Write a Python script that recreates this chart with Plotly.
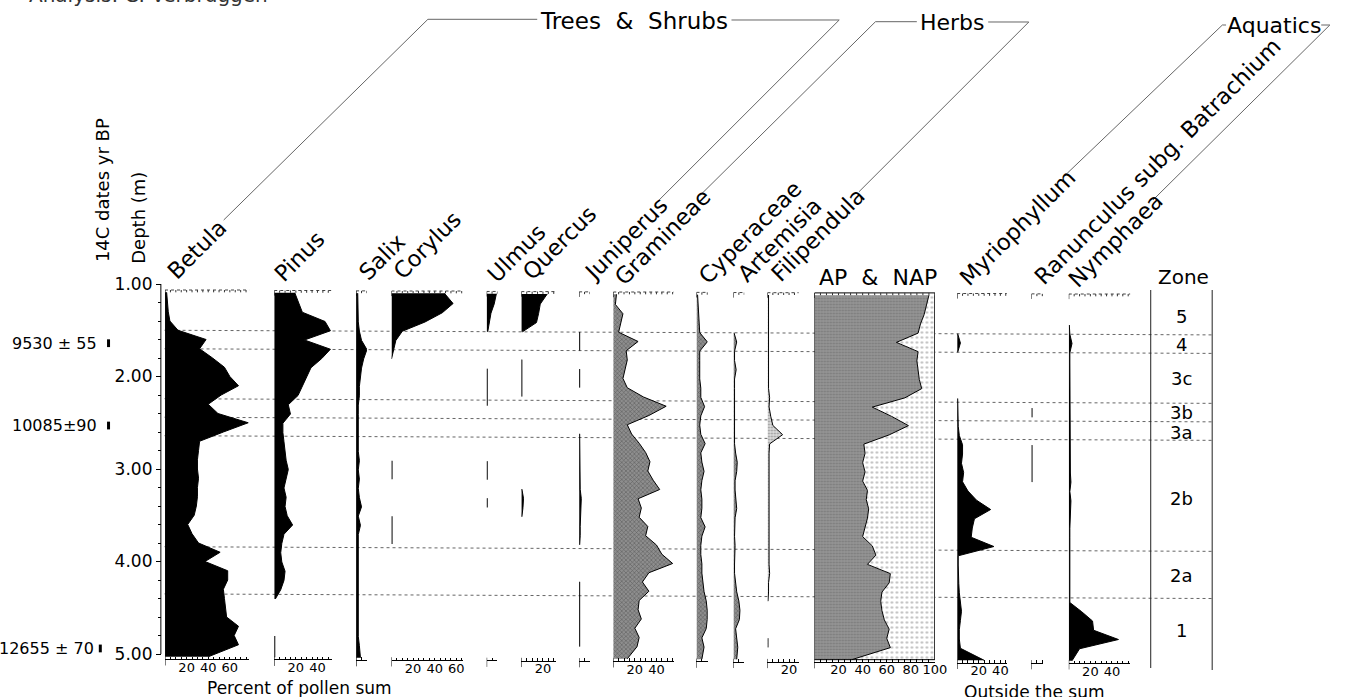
import plotly.graph_objects as go

W, H = 1357, 697
N = None

# ------------------------------------------------------------------ data
DEPTHS = [1.09, 1.20, 1.30, 1.40, 1.50, 1.60, 1.70, 1.80, 1.90, 2.00,
          2.10, 2.20, 2.30, 2.40, 2.50, 2.60, 2.70, 2.80, 2.90, 3.00,
          3.10, 3.20, 3.30, 3.40, 3.50, 3.60, 3.70, 3.80, 3.90, 4.00,
          4.10, 4.20, 4.30, 4.40, 4.50, 4.60, 4.70, 4.80, 4.90, 5.03]

BETULA = [1.5, 2, 3, 4.5, 12, 38, 32, 44, 55, 60,
          68, 52, 40, 49, 77, 54, 32, 31, 30, 30,
          31, 30, 30, 29, 27, 21, 25, 31, 51, 37,
          58, 58, 54, 55, 56, 57, 68, 64, 68, 40]
PINUS = [19, 23, 26, 47, 52, 28, 52, 44, 34, 30,
         26, 22, 13, 15, 8, 8, 9, 10, 11, 13,
         11, 9, 11, 10, 12, 17, 9, 7, 6, 7,
         10, 9, 6, 1, N, N, N, 0.5, 0.5, 0.5]
SALIX = [1.5, 1.5, 1.5, 2, 3, 5, 10, 7, 5, 4,
         3, 3, 2, 2, 2, 2, 2, 2, 3, 2,
         3, 2, 3, 5, 2, 4, 2, 2, 1.5, 1.5,
         1.5, 1.5, 1.5, 1.5, 2, 2, 2, 2, 3, 4]
CORYLUS = [49, 57, 47, 31, 10, 4, 2, 0, N, N,
           N, N, N, N, N, N, N, N, 0.5, 0.5,
           0.5, N, N, N, 0.5, 0.5, 0.5, 0.5, N, N,
           N, N, N, N, N, N, N, N, N, N]
ULMUS = [9, 7, 4, 2.5, 1, N, N, N, 0.5, 0.5,
         0.5, 0.5, 0.5, N, N, N, N, N, 0.5, 0.5,
         0.5, N, 0.5, 0.5, N, N, N, N, N, N,
         N, N, N, N, N, N, N, N, N, N]
QUERCUS = [24, 17.5, 16, 14, 1, N, N, 0.5, 0.5, 0.5,
           0.5, 0.5, N, N, N, N, N, N, N, N,
           N, 0.5, 2, 1.5, 0.5, N, N, N, N, N,
           N, N, N, N, N, N, N, N, N, N]
JUNIPERUS = [N, N, N, N, 0.5, 0.5, 0.5, N, 0.5, 0.5,
             0.5, N, N, N, N, 0.5, 0.5, 1, 1, 1,
             1, 1, 2, 1.5, 1, 1, 1, 0.5, N, N,
             N, 0.5, 0.5, 0.5, 0.5, 0.5, 0.5, 0.5, 0.5, N]
GRAMINEAE = [3, 2, 9, 7, 5, 23, 12, 13, 11, 9,
             13, 28, 49, 33, 13, 17, 24, 30, 34, 32,
             37, 43, 23, 26, 24, 32, 30, 40, 45, 55,
             33, 27, 33, 24, 23, 26, 20, 24, 22, 13]
CYPERACEAE = [1, 1.5, 2, 2, 3, 10, 3, 3, 3, 3,
              4, 4, 7.5, 4, 3, 4, 8, 4, 5, 7,
              5, 4, 5, 5, 4, 8, 5, 4, 4, 5,
              5, 6, 7, 9, 10, 10, 9, 5, 7, 5]
ARTEMISIA = [N, N, N, N, 0.5, 3, 1, 1, 2.5, 1,
             1, 1, 1, 1, 1, 1.5, 1, 2, 3.5, 3,
             1.5, 1.5, 2, 3, 1.5, 1, 1, 1.5, 1, 1,
             1, 2, 3, 5, 6, 5.5, 2, 3, 4, 3]
FILIPENDULA = [1, 1, 1, 1, 1, 1.5, 1, 1, 1, 1,
               1, 2, 1.5, 3, 5, 14, 2, 1.5, 1.5, 1.5,
               1.5, 1.5, 1.5, 1.5, 1.5, 1.5, 1.5, 1, 1, 1.5,
               2, 1, 1, 0.5, N, N, N, 0.5, 0.5, N]
AP = [95, 93, 91, 88, 86, 68, 86, 85, 86, 87,
      89, 75, 48, 64, 78, 62, 41, 42, 40, 42,
      40, 44, 43, 45, 44, 42, 40, 48, 51, 44,
      63, 62, 56, 55, 56, 58, 62, 60, 63, 31]
MYRIOPHYLLUM = [N, N, N, N, 0.5, 3, 0.5, N, N, N,
                N, 0.5, 0.5, 0.5, 1, 2, 5, 5, 4, 6,
                5, 10, 18, 31, 16, 14, 13, 34, 1, 1,
                1, 1.5, 2, 3, 4, 3, 2, 2, 3, 25]
RANUNCULUS = [N, N, N, N, N, N, N, N, N, N,
              N, N, 0.5, 0.5, N, N, 0.5, 0.5, 0.5, 0.5,
              0.5, N, N, N, N, N, N, N, N, N,
              N, N, N, N, N, N, N, N, N, N]
NYMPHAEA = [N, N, N, 0.5, 1, 3, 1, 1, 1, 1,
            1, 1, 1, 1, 1, 1, 1, 1, 1, 1.5,
            2, 1, 2, 1.5, 1, 1, 1, 1, 1, 1,
            1, 1, 1, 1, 12, 22, 23, 46, 10, 3]

TAXON_NAMES = ["Betula", "Pinus", "Salix", "Corylus", "Ulmus", "Quercus",
               "Juniperus", "Gramineae", "Cyperaceae", "Artemisia",
               "Filipendula", "AP & NAP", "Myriophyllum",
               "Ranunculus subg. Batrachium", "Nymphaea"]
TAXON_VALUES = [BETULA, PINUS, SALIX, CORYLUS, ULMUS, QUERCUS, JUNIPERUS,
                GRAMINEAE, CYPERACEAE, ARTEMISIA, FILIPENDULA, AP,
                MYRIOPHYLLUM, RANUNCULUS, NYMPHAEA]
GROUPS = ["Trees & Shrubs", "Herbs", "Aquatics"]

ZONE_BOUNDS = [1.50, 1.70, 2.24, 2.44, 2.64, 3.84, 4.35]
ZONE_NAMES = ["5", "4", "3c", "3b", "3a", "2b", "2a", "1"]
DATE_LABELS = ["9530 ± 55", "10085±90", "12655 ± 70"]
DATE_DEPTHS = [1.64, 2.53, 4.94]
DEPTH_TICKS = [1, 2, 3, 4, 5]
DEPTH_TICKTEXT = ["1.00", "2.00", "3.00", "4.00", "5.00"]
SCALE_LABEL_STEP = 20
SCALE_MINOR_STEP = 5

# ------------------------------------------------------------------ layout geometry (pixels)
PX_PER_M = 92.5
Y_REF_PX = 284.0     # pixel row of depth 1.00 at the depth axis
TILT = 0.0044        # scan tilt: rows drift down to the right
K = 1.09             # px per percent
FONT = "DejaVu Sans"
TOP_SCALE_D = 1.065
BOTTOM_SCALE_PX = 659.0
LABEL_DX, LABEL_DY = 5, -3   # nudge of rotated taxon labels

# (base px, scale max %, px per %, style, label centre px)
PANELS = [
    (166.5, 78, K, "black", (194, 252.5)),
    (276.7, 53, K, "black", (297, 258.5)),
    (359.3, 10, K, "black", (380, 260)),
    (395.0, 66, K, "black", (426, 248)),
    (491.0, 10, K, "black", (516, 256)),
    (526.0, 32, K, "black", (559, 246)),
    (584.3, 10, K, "black", (626, 241.5)),
    (618.7, 56, K, "herb", (663, 239.5)),
    (702.7, 10.5, K, "herb", (752, 235)),
    (740.0, 10, K, "herb", (781, 243)),
    (774.3, 29, K, "herb2", (819.5, 237.5)),
    (821.7, 100, 1.216, "apnap", (886, 277)),
    (965.7, 46, K, "black", (1022, 230)),
    (1040.7, 11, K, "black", (1163, 164)),
    (1078.3, 57, K, "black", (1120, 242.5)),
]


def shift(xpx):
    return (xpx - 166.0) * TILT


def px(x):
    return x / W


def py(y):
    return 1 - y / H


def depth_to_px(d, xpx=166.0):
    return Y_REF_PX + (d - 1.0) * PX_PER_M + shift(xpx)


def depth_range(s):
    top = 1 + (0 - Y_REF_PX - s) / PX_PER_M
    bot = 1 + (H - Y_REF_PX - s) / PX_PER_M
    return [bot, top]


def segments(vals):
    segs, cur = [], []
    for d, v in zip(DEPTHS, vals):
        if v is None:
            if cur:
                segs.append(cur)
            cur = []
        else:
            cur.append((d, v))
    if cur:
        segs.append(cur)
    return segs


fig = go.Figure()
shapes = []
annotations = []
layout = {}

BLACK_LINE = dict(color="black", width=1)
STYLE = {
    "black": dict(fillcolor="black"),
    "herb": dict(fillcolor="#7e7e7e",
                 fillpattern=dict(shape="x", fgcolor="#2a2a2a", bgcolor="#8e8e8e",
                                  size=3, solidity=0.35)),
    "herb2": dict(fillcolor="#cfcfcf",
                  fillpattern=dict(shape=".", fgcolor="#505050", bgcolor="#dedede",
                                   size=3, solidity=0.35)),
}

for i, (name, vals, panel) in enumerate(zip(TAXON_NAMES, TAXON_VALUES, PANELS)):
    base, smax, k, style, lab = panel
    xa = "x" if i == 0 else f"x{i+1}"
    ya = "y" if i == 0 else f"y{i+1}"
    xkey = "xaxis" if i == 0 else f"xaxis{i+1}"
    ykey = "yaxis" if i == 0 else f"yaxis{i+1}"
    s = 0.0 if i == 0 else shift(base)

    if style == "apnap":
        nap = [100 - v for v in vals]
        fig.add_trace(go.Scatter(
            x=vals, y=DEPTHS, xaxis=xa, yaxis=ya, mode="lines",
            stackgroup="apnap", orientation="h",
            line=dict(color="black", width=1),
            fillcolor="#8c8c8c",
            fillpattern=dict(shape=".", fgcolor="#5e5e5e", bgcolor="#969696",
                             size=3, solidity=0.4),
            hoverinfo="skip"))
        fig.add_trace(go.Scatter(
            x=nap, y=DEPTHS, xaxis=xa, yaxis=ya, mode="lines",
            stackgroup="apnap", orientation="h",
            line=dict(color="black", width=1),
            fillcolor="white",
            fillpattern=dict(shape=".", fgcolor="#808080", bgcolor="white",
                             size=5, solidity=0.2),
            hoverinfo="skip"))
    else:
        for seg in segments(vals):
            fig.add_trace(go.Scatter(
                x=[v for _, v in seg], y=[d for d, _ in seg],
                xaxis=xa, yaxis=ya, mode="lines", fill="tozerox",
                line=BLACK_LINE, hoverinfo="skip", **STYLE[style]))

    tickvals = list(range(SCALE_LABEL_STEP, int(smax) + 1, SCALE_LABEL_STEP))
    layout[xkey] = dict(
        domain=[px(base), px(base + smax * k)],
        range=[0, smax], anchor="free",
        position=py(BOTTOM_SCALE_PX + s),
        showline=True, linecolor="black", linewidth=1,
        ticks="inside", ticklen=2.5, tickcolor="black", tickwidth=1,
        tickmode="array", tickvals=tickvals, tickangle=0,
        ticktext=[str(v) for v in tickvals], ticklabelstandoff=-4,
        tickfont=dict(size=13, family=FONT, color="black"),
        minor=dict(ticks="inside", dtick=SCALE_MINOR_STEP, tick0=0,
                   ticklen=2.5, tickcolor="black", showgrid=False),
        showgrid=False, zeroline=False, fixedrange=True)
    if i == 0:
        layout[ykey] = dict(
            domain=[0, 1], range=depth_range(0), anchor="free",
            position=px(162.3), side="left",
            showline=False, showgrid=False, zeroline=False,
            ticks="outside", ticklen=5, tickcolor="black", tickwidth=1,
            tickmode="array", tickvals=DEPTH_TICKS, ticktext=DEPTH_TICKTEXT,
            tickfont=dict(size=17, family=FONT, color="black"),
            minor=dict(ticks="outside", ticklen=3, tickcolor="black",
                       tickmode="array",
                       tickvals=[round(1 + 0.2 * j, 2) for j in range(1, 20)
                                 if j % 5 != 0],
                       showgrid=False),
            fixedrange=True)
    else:
        layout[ykey] = dict(domain=[0, 1], range=depth_range(s), anchor="free",
                            position=0, visible=False, fixedrange=True)

    # scale decorations in the panel's own coordinates
    if style == "apnap":
        shapes.append(dict(type="rect", xref=xa, yref=ya, x0=0, x1=smax,
                           y0=TOP_SCALE_D, y1=DEPTHS[-1],
                           line=dict(color="black", width=1)))
    else:
        shapes.append(dict(type="line", xref=xa, yref=ya, x0=0, x1=smax,
                           y0=TOP_SCALE_D, y1=TOP_SCALE_D,
                           line=dict(color="#444", width=1, dash="dot")))
    for v in range(SCALE_MINOR_STEP, int(smax) + 1, SCALE_MINOR_STEP):
        shapes.append(dict(type="line", xref=xa, yref=ya, x0=v, x1=v,
                           y0=TOP_SCALE_D, y1=TOP_SCALE_D + 0.025,
                           line=dict(color="#333", width=1)))
    shapes.append(dict(type="line", xref=xa, yref=ya, x0=0, x1=0,
                       y0=TOP_SCALE_D, y1=TOP_SCALE_D + 0.055,
                       line=dict(color="black", width=1)))
    bot_d = 1 + (BOTTOM_SCALE_PX - Y_REF_PX) / PX_PER_M
    shapes.append(dict(type="line", xref=xa, yref=ya, x0=0, x1=0,
                       y0=bot_d - 0.03, y1=bot_d + 0.07,
                       line=dict(color="black", width=1)))

    # taxon label
    if style == "apnap":
        annotations.append(dict(text="AP\u00a0\u00a0&\u00a0\u00a0NAP", x=px(lab[0]), y=py(lab[1]),
                                xref="paper", yref="paper", showarrow=False,
                                font=dict(size=22, family=FONT, color="black"),
                                xanchor="center", yanchor="middle"))
    else:
        annotations.append(dict(text=name, x=px(lab[0] + LABEL_DX),
                                y=py(lab[1] + LABEL_DY),
                                xref="paper", yref="paper", showarrow=False,
                                textangle=-45,
                                font=dict(size=22.5, family=FONT, color="black"),
                                xanchor="center", yanchor="middle"))

# depth axis line
shapes.append(dict(type="line", xref="paper", yref="y", x0=px(162.3), x1=px(162.3),
                   y0=DEPTH_TICKS[0], y1=DEPTH_TICKS[-1],
                   line=dict(color="black", width=1)))

# zone lines (dotted, behind fills)
for d in ZONE_BOUNDS:
    shapes.append(dict(type="line", xref="paper", yref="paper", layer="below",
                       x0=px(166), x1=px(1224),
                       y0=py(depth_to_px(d, 166)), y1=py(depth_to_px(d, 1224)),
                       line=dict(color="#666", width=1, dash="dot")))
# zone column
for xl, yb in ((1161, 668), (1223, 670)):
    shapes.append(dict(type="line", xref="paper", yref="paper",
                       x0=px(xl), x1=px(xl), y0=py(290), y1=py(yb),
                       line=dict(color="#222", width=1)))
ZONE_LABEL_PX = [316.7, 344.3, 379, 412.5, 432.5, 498.3, 575.7, 630]
for zname, zy in zip(ZONE_NAMES, ZONE_LABEL_PX):
    annotations.append(dict(text=zname, x=px(1192), y=py(zy), xref="paper", yref="paper",
                            showarrow=False, xanchor="center", yanchor="middle",
                            font=dict(size=18, family=FONT, color="black")))
annotations.append(dict(text="Zone", x=px(1194), y=py(277), xref="paper", yref="paper",
                        showarrow=False, xanchor="center", yanchor="middle",
                        font=dict(size=20, family=FONT, color="black")))

# radiocarbon dates
DATE_BAR_X = [109.5, 109.5, 101.2]
DATE_TEXT_X = [100, 100, 97]
for lab, d, bx, tx in zip(DATE_LABELS, DATE_DEPTHS, DATE_BAR_X, DATE_TEXT_X):
    annotations.append(dict(text=lab, x=px(tx), y=d, xref="paper", yref="y",
                            showarrow=False, xanchor="right", yanchor="middle",
                            font=dict(size=16, family=FONT, color="black")))
    shapes.append(dict(type="line", xref="paper", yref="y", x0=px(bx), x1=px(bx),
                       y0=d - 0.042, y1=d + 0.042,
                       line=dict(color="black", width=3)))

# axis titles
annotations.append(dict(text="Depth (m)", x=px(140), y=py(218), xref="paper", yref="paper",
                        showarrow=False, textangle=-90, xanchor="center", yanchor="middle",
                        font=dict(size=18, family=FONT, color="black")))
annotations.append(dict(text="14C dates yr BP", x=px(103), y=py(190), xref="paper",
                        yref="paper", showarrow=False, textangle=-90,
                        xanchor="center", yanchor="middle",
                        font=dict(size=18, family=FONT, color="black")))
annotations.append(dict(text="Percent of pollen sum", x=px(302), y=py(688),
                        xref="paper", yref="paper", showarrow=False,
                        xanchor="center", yanchor="middle",
                        font=dict(size=17, family=FONT, color="black")))
annotations.append(dict(text="Outside the sum", x=px(1044), y=py(692),
                        xref="paper", yref="paper", showarrow=False,
                        xanchor="center", yanchor="middle",
                        font=dict(size=17, family=FONT, color="black")))
annotations.append(dict(text="Analysis: C. Verbruggen", x=px(27), y=py(9),
                        xref="paper", yref="paper", showarrow=False,
                        xanchor="left", yanchor="bottom",
                        font=dict(size=20, family=FONT, color="#333")))

# group headers with bracket lines
GROUP_LABEL_POS = [(640, 21), (960.7, 23), (1285, 25)]
GROUP_TEXT = ["Trees\u00a0\u00a0&\u00a0\u00a0Shrubs", GROUPS[1], GROUPS[2]]
GROUP_SIZE = [23, 22, 22]
for t, (gx, gy), fs in zip(GROUP_TEXT, GROUP_LABEL_POS, GROUP_SIZE):
    annotations.append(dict(text=t, x=px(gx), y=py(gy), xref="paper", yref="paper",
                            showarrow=False, xanchor="center", yanchor="middle",
                            font=dict(size=fs, family=FONT, color="black")))

BRACKETS = [
    [(225.7, 220), (431.7, 19.3), (542, 19.3)],
    [(738, 20), (846.7, 20), (665, 200)],
    [(706.7, 195), (883.3, 21.7), (925, 21.7)],
    [(997, 22), (1038, 22), (866.7, 191.7)],
    [(1076.7, 173.3), (1233.3, 25), (1237, 25)],
    [(1333, 25), (1341.7, 25), (1163.3, 200)],
]
for pts in BRACKETS:
    path = "M " + " L ".join(f"{px(a):.5f},{py(b):.5f}" for a, b in pts)
    shapes.append(dict(type="path", xref="paper", yref="paper", path=path,
                       line=dict(color="#666", width=1)))

fig.update_layout(
    width=W, height=H, margin=dict(l=0, r=0, t=0, b=0),
    paper_bgcolor="white", plot_bgcolor="rgba(0,0,0,0)",
    showlegend=False, font=dict(family=FONT, color="black"),
    shapes=shapes, annotations=annotations, **layout)

fig.write_html("out.html")
